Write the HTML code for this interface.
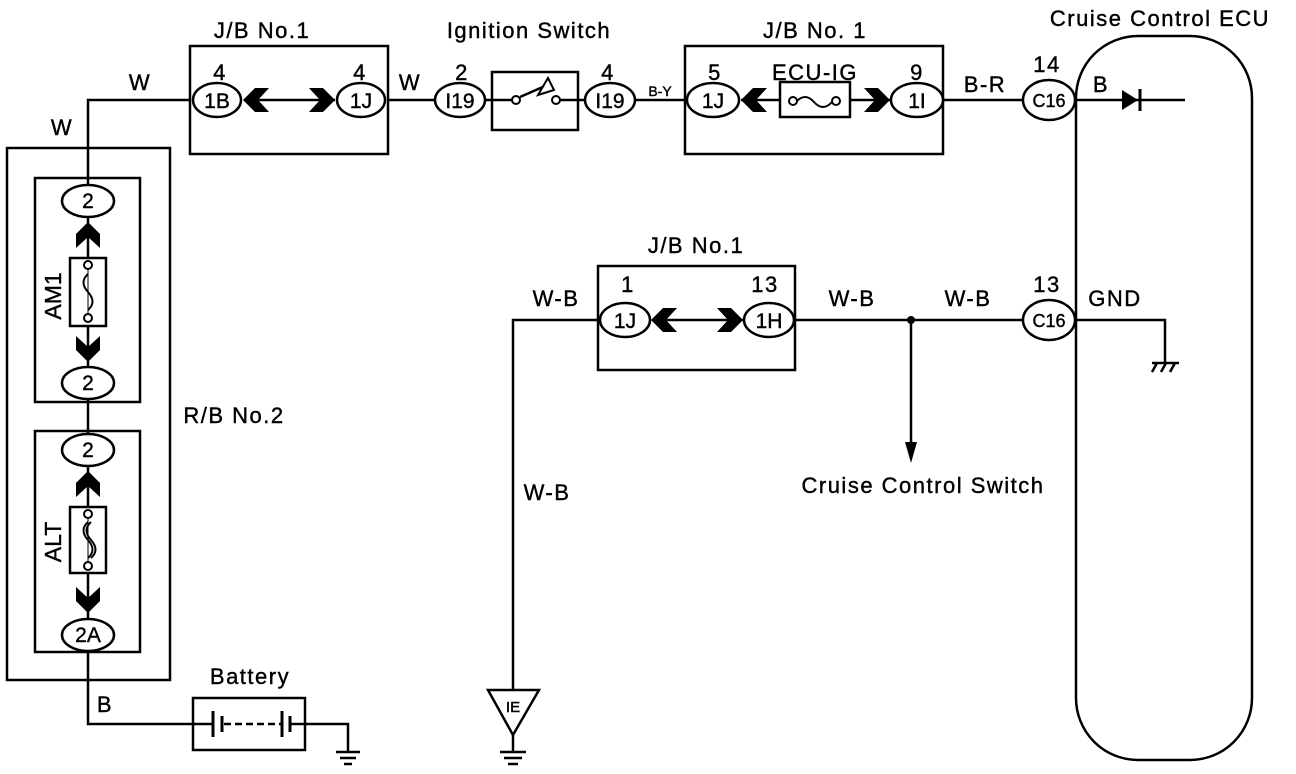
<!DOCTYPE html>
<html><head><meta charset="utf-8"><style>
html,body{margin:0;padding:0;background:#fff;}
svg{display:block;}
text{font-family:"Liberation Sans",sans-serif;fill:#000;stroke:#000;stroke-width:0.4;}
</style></head><body>
<svg width="1296" height="774" viewBox="0 0 1296 774" xmlns="http://www.w3.org/2000/svg">
<defs>
<polygon id="chL" points="0,0 12,-12 26,-12 15,0 26,12 12,12" fill="#000"/>
</defs>
<g stroke="#000" stroke-width="2.5" fill="none">
<polyline points="190,100 88,100 88,185"/>
<line x1="88" y1="217" x2="88" y2="367"/>
<line x1="88" y1="399" x2="88" y2="434"/>
<line x1="88" y1="466" x2="88" y2="619"/>
<polyline points="88,651 88,724 193,724"/>
<polyline points="305,724 348,724 348,752"/>
<line x1="388" y1="100" x2="435" y2="100"/>
<line x1="485" y1="100" x2="492" y2="100"/>
<line x1="578" y1="100" x2="585" y2="100"/>
<line x1="635" y1="100" x2="688" y2="100"/>
<line x1="942" y1="100" x2="1022" y2="100"/>
<line x1="1077" y1="100" x2="1185" y2="100"/>
<line x1="795" y1="320" x2="1022" y2="320"/>
<polyline points="1077,320 1165,320 1165,362"/>
<polyline points="600,320 513,320 513,690"/>
<line x1="911" y1="320" x2="911" y2="445"/>
<rect x="7" y="148" width="163" height="532"/>
<rect x="35" y="178" width="105" height="224"/>
<rect x="35" y="431" width="105" height="221"/>
<rect x="190" y="46" width="198" height="108"/>
<rect x="492" y="72" width="86" height="58"/>
<rect x="685" y="46" width="258" height="108"/>
<rect x="598" y="266" width="197" height="104"/>
<rect x="193" y="698" width="112" height="52"/>
<rect x="1076" y="36" width="176" height="724" rx="62" ry="62"/>
<ellipse cx="88" cy="201" rx="26" ry="16" fill="#fff"/>
<ellipse cx="88" cy="383" rx="26" ry="16" fill="#fff"/>
<ellipse cx="88" cy="450" rx="26" ry="16" fill="#fff"/>
<ellipse cx="88" cy="635" rx="26" ry="16" fill="#fff"/>
<ellipse cx="217" cy="100" rx="24" ry="17" fill="#fff"/>
<ellipse cx="361" cy="100" rx="24" ry="17" fill="#fff"/>
<ellipse cx="460" cy="100" rx="25" ry="17" fill="#fff"/>
<ellipse cx="610" cy="100" rx="25" ry="17" fill="#fff"/>
<ellipse cx="713" cy="100" rx="26" ry="17" fill="#fff"/>
<ellipse cx="917" cy="100" rx="26" ry="17" fill="#fff"/>
<ellipse cx="1049" cy="100" rx="26" ry="20" fill="#fff"/>
<ellipse cx="625" cy="320" rx="25" ry="17" fill="#fff"/>
<ellipse cx="769" cy="320" rx="25" ry="17" fill="#fff"/>
<ellipse cx="1049" cy="320" rx="26" ry="20" fill="#fff"/>
<line x1="245" y1="100" x2="335" y2="100"/>
<line x1="741" y1="100" x2="890" y2="100"/>
<line x1="652" y1="320" x2="743" y2="320"/>
<rect x="70" y="258" width="36" height="68" fill="#fff"/>
<rect x="70" y="507" width="36" height="66" fill="#fff"/>
<rect x="780" y="82" width="70" height="35" fill="#fff"/>
<path d="M796,102 q9,-10 18,0 t18,0" stroke-width="2"/>
<path d="M88,274 q-9,8 0,18 t0,18" stroke-width="2"/>
<path d="M88,522 q-9,8 0,18 t0,18 M91,522 q-9,8 0,18 t0,18" stroke-width="2"/>
<line x1="88" y1="264" x2="88" y2="320" stroke-width="1"/>
<line x1="88" y1="513" x2="88" y2="567" stroke-width="1"/>
<line x1="492" y1="100" x2="512" y2="100"/>
<line x1="560" y1="100" x2="578" y2="100"/>
<line x1="520" y1="97" x2="545" y2="86"/>
<line x1="193" y1="724" x2="213" y2="724"/>
<line x1="224" y1="724" x2="282" y2="724" stroke-dasharray="7 4"/>
<line x1="290" y1="724" x2="305" y2="724"/>
</g>
<circle cx="516" cy="100" r="4" fill="#fff" stroke="#000" stroke-width="2"/>
<circle cx="556" cy="100" r="4" fill="#fff" stroke="#000" stroke-width="2"/>
<polygon points="538,95 548,78 554,90" fill="#fff" stroke="#000" stroke-width="2"/>
<g fill="#fff" stroke="#000" stroke-width="2">
<circle cx="88" cy="265" r="4"/><circle cx="88" cy="318" r="4"/>
<circle cx="88" cy="514" r="4"/><circle cx="88" cy="566" r="4"/>
<circle cx="793" cy="101" r="4"/><circle cx="836" cy="101" r="4"/>
</g>
<g stroke="#000" stroke-width="3">
<line x1="213" y1="711" x2="213" y2="737"/><line x1="222" y1="716" x2="222" y2="732"/>
<line x1="282" y1="711" x2="282" y2="737"/><line x1="290" y1="716" x2="290" y2="732"/>
</g>
<use href="#chL" transform="translate(243,100)"/>
<use href="#chL" transform="translate(335,100) scale(-1,1)"/>
<use href="#chL" transform="translate(741,100)"/>
<use href="#chL" transform="translate(890,100) scale(-1,1)"/>
<use href="#chL" transform="translate(651,320)"/>
<use href="#chL" transform="translate(743,320) scale(-1,1)"/>
<use href="#chL" transform="translate(88,222) rotate(90)"/>
<use href="#chL" transform="translate(88,362) rotate(-90)"/>
<use href="#chL" transform="translate(88,471) rotate(90)"/>
<use href="#chL" transform="translate(88,613) rotate(-90)"/>
<polygon points="1122,90 1122,110 1138,100" fill="#000"/>
<line x1="1140" y1="89" x2="1140" y2="111" stroke="#000" stroke-width="3"/>
<circle cx="911" cy="320" r="4" fill="#000"/>
<polygon points="905,442 917,442 911,463" fill="#000"/>
<g stroke="#000" stroke-width="2.5">
<line x1="336" y1="752" x2="360" y2="752"/><line x1="340" y1="758" x2="356" y2="758"/><line x1="344" y1="764" x2="352" y2="764"/>
<line x1="1152" y1="363" x2="1179" y2="363"/>
<line x1="1157" y1="363" x2="1152" y2="372"/><line x1="1166" y1="363" x2="1161" y2="372"/><line x1="1175" y1="363" x2="1170" y2="372"/>
<line x1="513" y1="735" x2="513" y2="752"/>
<line x1="500" y1="752" x2="526" y2="752"/><line x1="504" y1="758" x2="522" y2="758"/><line x1="508" y1="764" x2="518" y2="764"/>
</g>
<polygon points="488,690 539,690 513,735" fill="#fff" stroke="#000" stroke-width="2.5"/>
<g font-size="22" text-anchor="middle" letter-spacing="1.5">
<text x="262" y="38">J/B No.1</text>
<text x="529" y="38">Ignition Switch</text>
<text x="815" y="38">J/B No. 1</text>
<text x="1160" y="26">Cruise Control ECU</text>
<text x="696" y="253">J/B No.1</text>
<text x="220" y="80">4</text><text x="360" y="80">4</text>
<text x="462" y="80">2</text><text x="608" y="80">4</text>
<text x="715" y="80">5</text><text x="815" y="80">ECU-IG</text><text x="917" y="80">9</text>
<text x="1047" y="72">14</text><text x="1047" y="292">13</text>
<text x="628" y="292">1</text><text x="765" y="292">13</text>
<text x="140" y="90">W</text><text x="62" y="135">W</text><text x="410" y="90">W</text>
<text x="985" y="92">B-R</text><text x="1101" y="92">B</text>
<text x="1115" y="306">GND</text>
<text x="556" y="306">W-B</text><text x="852" y="306">W-B</text><text x="968" y="306">W-B</text>
<text x="547" y="500">W-B</text>
<text x="923" y="493">Cruise Control Switch</text>
<text x="234" y="423">R/B No.2</text>
<text x="250" y="684">Battery</text>
<text x="105" y="712">B</text>
</g>
<text x="660" y="96" font-size="14" text-anchor="middle">B-Y</text>
<g font-size="21" text-anchor="middle">
<text x="88" y="208">2</text><text x="88" y="390">2</text><text x="88" y="457">2</text><text x="88" y="642">2A</text>
<text x="217" y="108">1B</text><text x="361" y="108">1J</text>
<text x="460" y="108">I19</text><text x="610" y="108">I19</text>
<text x="713" y="108">1J</text><text x="917" y="108">1I</text>
<text x="625" y="328">1J</text><text x="769" y="328">1H</text>
</g>
<g font-size="18" text-anchor="middle">
<text x="1049" y="107">C16</text><text x="1049" y="327">C16</text>
</g>
<text x="513" y="712" font-size="15" text-anchor="middle">IE</text>
<text font-size="23" text-anchor="middle" transform="translate(61,296) rotate(-90)">AM1</text>
<text font-size="23" text-anchor="middle" transform="translate(61,542) rotate(-90)">ALT</text>
</svg>
</body></html>
